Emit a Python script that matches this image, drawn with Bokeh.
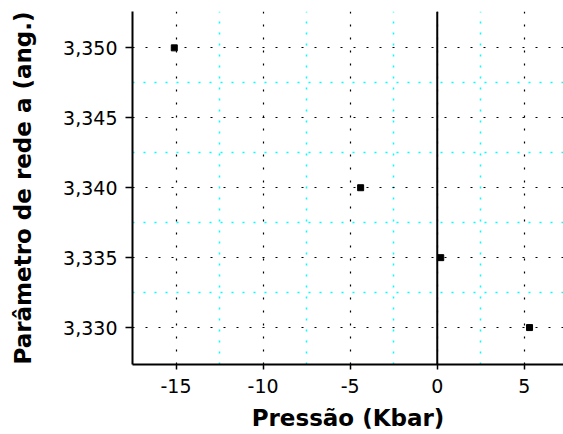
from bokeh.plotting import figure
from bokeh.models import FixedTicker, CustomJSTickFormatter, Span, Range1d
from bokeh.embed import file_html
from bokeh.resources import INLINE

# Data
pressure = [-15.1, -4.4, 0.2, 5.3]
lattice = [3.350, 3.340, 3.335, 3.330]

x_ticks = [-15, -10, -5, 0, 5]
x_minor = [-12.5, -7.5, -2.5, 2.5]
y_ticks = [3.330, 3.335, 3.340, 3.345, 3.350]
y_minor = [3.3325, 3.3375, 3.3425, 3.3475]

p = figure(width=563, height=434, output_backend="svg", toolbar_location=None,
           x_range=Range1d(-17.5, 7.25), y_range=Range1d(3.32736, 3.3526),
           min_border_left=132, min_border_right=0, min_border_top=11,
           min_border_bottom=70)
p.outline_line_color = None
p.background_fill_color = "white"

p.xaxis.ticker = FixedTicker(ticks=x_ticks, minor_ticks=x_minor)
p.yaxis.ticker = FixedTicker(ticks=y_ticks, minor_ticks=y_minor)
p.xaxis.formatter = CustomJSTickFormatter(code="return tick.toFixed(0);")
p.yaxis.formatter = CustomJSTickFormatter(code="return tick.toFixed(3).replace('.', ',');")

for ax in (p.xaxis, p.yaxis):
    ax.axis_line_color = "black"
    ax.axis_line_width = 2
    ax.major_tick_line_color = "black"
    ax.major_tick_line_width = 1.5
    ax.major_tick_in = 0
    ax.minor_tick_line_color = None
    ax.major_label_text_font = "DejaVu Sans"
    ax.major_label_text_font_size = "19px"
    ax.major_label_text_color = "black"
    ax.axis_label_text_font = "DejaVu Sans"
    ax.axis_label_text_font_size = "23px"
    ax.axis_label_text_font_style = "bold"
    ax.axis_label_text_color = "black"

p.xaxis.major_tick_out = 5
p.yaxis.major_tick_out = 7
p.xaxis.major_label_standoff = 9
p.yaxis.major_label_standoff = 8
p.xaxis.axis_label = "Pressão (Kbar)"
p.yaxis.axis_label = "Parâmetro de rede a (ang.)"
p.xaxis.axis_label_standoff = 9
p.yaxis.axis_label_standoff = 24

for g in (p.xgrid, p.ygrid):
    g.grid_line_color = "black"
    g.grid_line_dash = "2 11"
    g.grid_line_width = 1.2
    g.minor_grid_line_color = "#00FFFF"
    g.minor_grid_line_dash = "2 9"
    g.minor_grid_line_width = 1.5

p.add_layout(Span(location=0, dimension="height", line_color="black", line_width=2))

p.scatter(pressure, lattice, marker="square", size=6, color="black")

open("out.html", "w").write(file_html(p, INLINE))
